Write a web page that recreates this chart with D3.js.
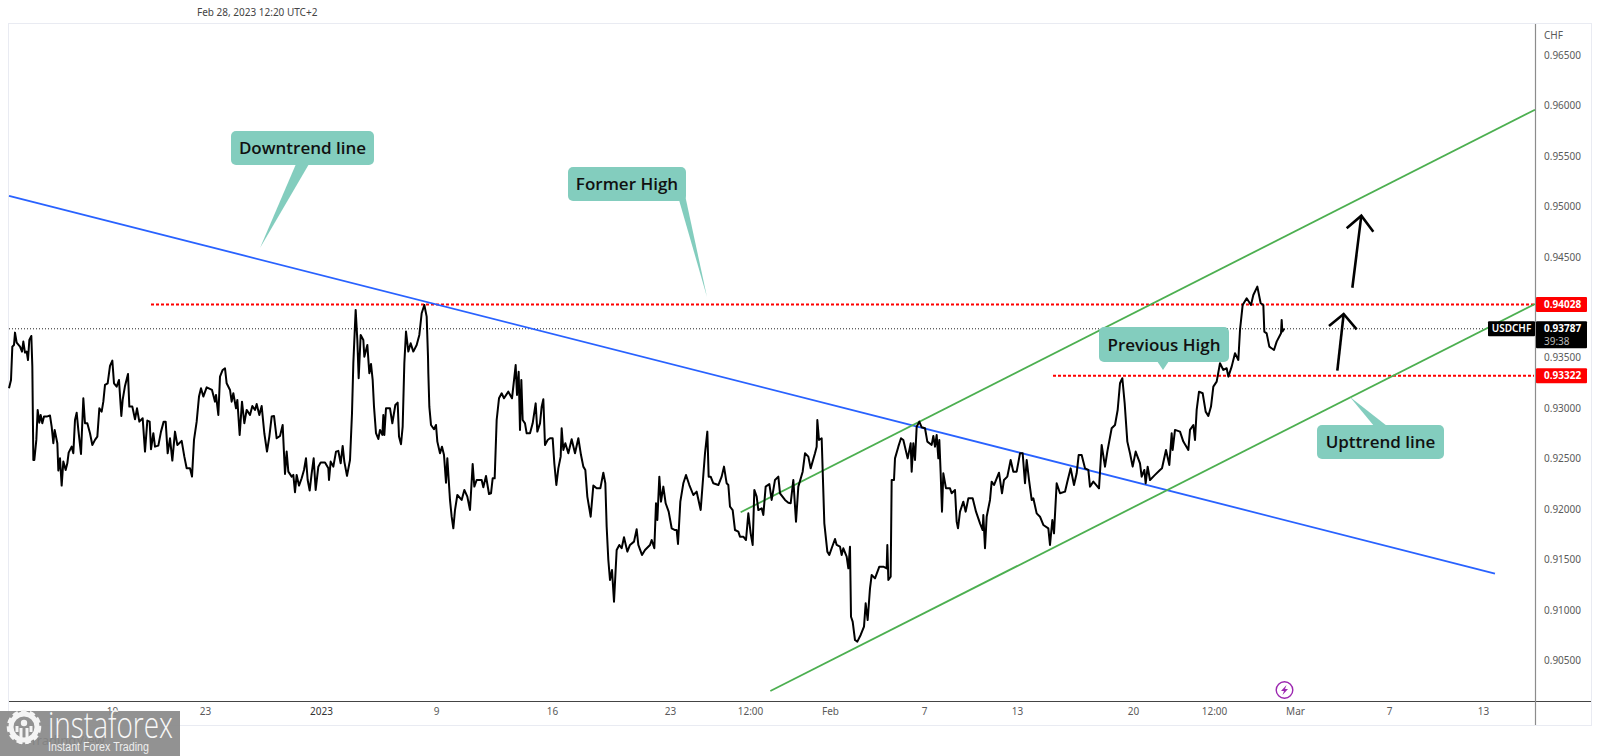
<!DOCTYPE html>
<html>
<head>
<meta charset="utf-8">
<title>USDCHF</title>
<script src="https://cdnjs.cloudflare.com/ajax/libs/d3/7.8.5/d3.min.js"></script>
<style>
  html, body { margin: 0; padding: 0; background: #fff; overflow: hidden; }
  .tick text { font-family: "Noto Sans", sans-serif; font-size: 10px; fill: #5a5a5a; }
</style>
</head>
<body>
<div id="chart"></div>
<script>
// bar position along the chart (bars are evenly spaced, weekends are left out)
var bars = [27,33,37,42,45,50,60,66,70,75,80,84,88,94,97,100,103,109,113,118,122,127,132,140,150,155,160,164,172,175,180,185,190,197,202,206,215,220,225,230,235,243,250,255,262,270,277,285,292,298,305,310,315,323,330,337,342,350,357,364,368,375,384,388,397,405,411,418,428,435,442,449,453,460,465,475,483,491,497,503,510,517,525,532,545,553,560,570,576,582,590,597,603,610,620,636,645,648,655,660,668,675,680,690,695,700,708,712,719,726,733,740,750,757,765,770,778,785,793,801,808,815,822,830,840,848,852,855,860,865,875,880,885,890,897,905,912,918,923,929,935,941,947,955,962,975,985,987,992,1000,1008,1015,1022,1028,1033,1041,1050,1056,1060,1067,1072,1076,1082,1090,1093,1102,1108,1113,1118,1122,1128,1135,1140,1147,1150,1153,1158,1170,1177,1186,1193,1197,1203,1208,1213,1218,1225,1232,1240,1250,1258,1265,1273,1280,1284,
  1285,1288,1293,1302,1308,1312,1320,1326,1332,1338,1342,1350,1355,1360,1365,1372,1385,1393,1402,1410,1418,1423,1430,1445,1450,1458,1467,1473,1478,1484,1490,1497,1505,1512,1525,1536,1541,1547,1551,1556,1560,1564,1568,1575,1580,1590,1598,1607,1612,1620,1625,1630,1635,1643,1650,1658,1663,1669,1675,1682,1685,1690,1696,1705,1715,1725,1735,1743,1750,1756,1762,1772,1780,1790,1801,1810,1816,1820,1825,1830,1836,1842,1850,1858,1865,1872,1882,1890,1902,1910,1915,1926,1935,1950,1955,1963,1968,1972,1978,1983,1990,1997,2006,2015,2025,2030,2034,2041,2050,2058,2068,2080,2090,2102,2110,2115,2122,2126,2132,2140,2155,2165,2172,2180,2185,2190,2198,2205,2215,2220,2230,2238,2245,2252,2258,2263,2270,2275,2285,2290,2297,2308,2315,2325,2335,2340,2355,2365,2372,2380,2388,2395,2408,2415,2425,2432,2445,2450,2452,2457,2465,2473,2482,2488,2495,2505,2510,2520,2525,2530,2540,2545,
  2550,2553,2558,2565,2572,2582,2592,2597,2603,2610,2615,2625,2638,2650,2660,2662,2665,2672,2675,2682,2685,2695,2703,2710,2723,2732,2735,2740,2745,2750,2758,2765,2775,2782,2795,2800,2805,2810,2815,2818,2822,2826,2830,2838,2850,2855,2865,2870,2874,2880,2890,2897,2905,2918,2928,2940,2948,2950,2955,2960,2970,2975,2982,2997,3006,3012,3022,3032,3040,3050,3060,3068,3075,3080,3087,3095,3100,3110,3120,3130,3145,3150,3157,3162,3170,3180,3195,3202,3212,3222,3230,3236,3245,3255,3265,3270,3280,3297,3305,3315,3322,3335,3345,3353,
  3360,3367,3374,3382,3390,3398,3407,3420,3425,3433,3437,3443,3450,3465,3480,3486,3498,3508,3515,3518,3525,3540,3550,3565,3570,3580,3585,3590,3597,3608,3617,3625,3633,3640,3650,3660,3670,3680,3685,3695,3705,3715,3720,3728,3740,3753,3760,3772,3782,3790,3793,3800,3808,3822,3830,3843,3845,3847,3853]

// USDCHF close at each of those bars
var closes = [0.93198,0.93280,0.93610,0.93627,0.93749,0.93650,0.93610,0.93561,0.93660,0.93551,0.93561,0.93478,0.93676,0.93716,0.93412,0.92487,0.92487,0.92686,0.92983,0.92857,0.92933,0.92851,0.92917,0.92917,0.92927,0.92818,0.92653,0.92785,0.92653,0.92382,0.92504,0.92233,0.92471,0.92388,0.92454,0.92560,0.92619,0.92553,0.92884,0.92956,0.92785,0.92547,0.93098,0.92851,0.92851,0.92752,0.92636,0.92686,0.92719,0.92999,0.92966,0.93065,0.93231,0.93247,0.93419,0.93472,0.93247,0.93214,0.93280,0.92923,0.93082,0.93221,0.93340,0.93016,0.93016,0.92890,0.92999,0.92867,0.92900,0.92570,0.92877,0.92867,0.92593,0.92752,0.92619,0.92629,0.92768,0.92867,0.92867,0.92553,0.92702,0.92481,0.92768,0.92636,0.92676,0.92520,0.92405,0.92405,0.92322,0.92686,0.92867,0.93115,0.93198,0.93115,0.93207,0.93181,0.93065,0.93131,0.92933,0.93313,0.93379,0.93396,0.93247,0.93181,0.93065,0.93148,0.92999,0.93082,0.92735,0.93065,0.92851,0.92983,0.92933,0.93022,0.92983,0.93042,0.92933,0.93022,0.92752,0.92570,0.92719,0.92917,0.92923,0.92702,0.92725,0.92834,0.92553,0.92349,0.92570,0.92372,0.92322,0.92339,0.92167,0.92339,0.92233,0.92306,0.92388,0.92504,0.92289,0.92184,0.92355,0.92504,0.92190,0.92421,0.92461,0.92461,0.92405,0.92289,0.92471,0.92421,0.92570,0.92577,0.92454,0.92626,0.92471,0.92329,0.92487,0.92950,0.93445,0.93974,0.93676,0.93297,0.93726,0.93676,0.93511,0.93627,0.93346,0.93439,0.93280,0.93016,0.92752,0.92695,0.92785,0.92735,0.92933,0.92735,0.92999,0.92999,0.92851,0.93032,0.93055,0.92719,0.92643,0.92818,0.93445,0.93759,0.93561,0.93643,0.93561,0.93627,0.93726,0.93941,0.94023,0.93908,0.93511,
  0.93346,0.93015,0.92834,0.92791,0.92834,0.92669,0.92553,0.92619,0.92536,0.92262,0.92503,0.92091,0.91925,0.91810,0.91991,0.92140,0.92091,0.92190,0.92124,0.91991,0.92447,0.92223,0.92289,0.92289,0.92216,0.92328,0.92150,0.92157,0.92305,0.92305,0.92883,0.93098,0.93148,0.93098,0.93164,0.93098,0.93247,0.93428,0.93131,0.93362,0.92784,0.93280,0.92883,0.92850,0.92751,0.92751,0.92850,0.93048,0.92768,0.92850,0.93015,0.93088,0.92636,0.92685,0.92702,0.92702,0.92454,0.92239,0.92404,0.92520,0.92801,0.92586,0.92652,0.92553,0.92692,0.92553,0.92702,0.92536,0.92421,0.92388,0.92124,0.91925,0.92233,0.92206,0.92206,0.92361,0.92256,0.91826,0.91496,0.91298,0.91397,0.91083,0.91595,0.91645,0.91612,0.91721,0.91579,0.91645,0.91678,0.91800,0.91645,0.91546,0.91595,0.91645,0.91694,0.91612,0.92058,0.91892,0.92322,0.92074,0.92223,0.92058,0.91975,0.91810,0.91793,0.91793,0.91655,0.92074,0.92256,0.92338,0.92239,0.92140,0.92173,0.91991,0.92338,0.92553,0.92768,0.92322,0.92322,0.92256,0.92239,0.92322,0.92421,0.92256,0.92239,0.92024,0.91991,0.91793,0.91777,0.91727,0.91727,0.91694,0.91958,0.91760,0.91645,0.92190,0.92124,0.91991,0.92008,0.91942,0.92223,0.92249,0.92091,0.92289,0.92322,0.92157,0.92091,0.92064,0.92058,0.92289,0.91876,0.92223,0.92371,0.92553,0.92520,0.92404,0.92553,0.92619,0.92883,0.92685,0.92702,0.91859,0.91579,0.91546,0.91612,0.91704,0.91645,0.91628,0.91546,0.91612,0.91529,0.91413,
  0.91628,0.90934,0.90885,0.90703,0.90687,0.90753,0.90835,0.91067,0.90901,0.91215,0.91347,0.91314,0.91430,0.91430,0.91413,0.91645,0.91298,0.91331,0.92289,0.92289,0.92503,0.92619,0.92702,0.92685,0.92503,0.92652,0.92371,0.92652,0.92487,0.92817,0.92867,0.92811,0.92801,0.92669,0.92636,0.92725,0.92619,0.92735,0.92503,0.92685,0.92355,0.91975,0.92355,0.92206,0.92206,0.92157,0.92190,0.91876,0.91810,0.91975,0.92074,0.91975,0.92107,0.92107,0.91975,0.91859,0.91793,0.91942,0.91612,0.91925,0.92091,0.92272,0.92239,0.92361,0.92157,0.92289,0.92322,0.92487,0.92371,0.92371,0.92553,0.92553,0.92256,0.92487,0.92289,0.92091,0.92107,0.91958,0.91925,0.91843,0.91810,0.91645,0.91892,0.91760,0.92256,0.92157,0.92173,0.92272,0.92404,0.92239,0.92355,0.92536,0.92536,0.92404,0.92388,0.92223,0.92272,0.92206,0.92636,0.92421,0.92570,0.92801,0.92834,0.92982,
  0.93247,0.93297,0.93049,0.92669,0.92553,0.92421,0.92570,0.92454,0.92322,0.92388,0.92256,0.92421,0.92289,0.92339,0.92388,0.92405,0.92586,0.92438,0.92752,0.92586,0.92785,0.92768,0.92669,0.92586,0.92785,0.92834,0.92685,0.92983,0.93164,0.93148,0.92966,0.92923,0.93016,0.93214,0.93263,0.93445,0.93379,0.93396,0.93313,0.93412,0.93544,0.93478,0.93775,0.94023,0.94089,0.94023,0.94122,0.94205,0.94040,0.94023,0.93759,0.93742,0.93610,0.93577,0.93660,0.93742,0.93875,0.93759,0.93787]

// axis labels
var priceTicks = [0.905,0.91,0.915,0.92,0.925,0.93,0.935,0.945,0.95,0.955,0.96,0.965]
var dateBars = [336,615,963,1308,1656,2010,2250,2490,2772,3051,3399,3642,3885,4167,4449]
var dateLabels = ["19","23","2023","9","16","23","12:00","Feb","7","13","20","12:00","Mar","7","13"]

// drawn trend lines and levels, [bar, price]
var downtrend = [[27,0.95105],[4485,0.91362]]
var upperChannel = [[2222,0.91969],[4605,0.95958]]
var lowerChannel = [[2311,0.90198],[4605,0.94033]]
var formerHigh = 0.94028
var previousHigh = 0.93322
var lastPrice = 0.93787
var arrowOne = [[3987,0.93815],[4031,0.93934],[4070,0.93782]]
var arrowOneTail = [[4012,0.93372],[4031,0.93934]]
var arrowTwo = [[4040,0.94783],[4084,0.94908],[4120,0.94749]]
var arrowTwoTail = [[4057,0.94194],[4084,0.94908]]

var width = 1600, height = 756

var svg = d3.select("#chart").append("svg")
  .attr("width", width)
  .attr("height", height)
  .style("display", "block")

var xScale = d3.scaleLinear()
  .domain([27, 4605]) // bars
  .range([9, 1535]) // in browser pixels

var yScale = d3.scaleLinear()
  .domain([0.905, 0.965])
  .range([660.5, 55])

var line = d3.line()
  .x(function(d) { return xScale(d[0]) })
  .y(function(d) { return yScale(d[1]) })

// Chart frame
svg.append("rect")
  .attr("x", 8.5)
  .attr("y", 23.5)
  .attr("width", 1583)
  .attr("height", 702)
  .style("fill", "none")
  .style("stroke", "#e9ebf2")

// Axes
var yAxis = d3.axisRight(yScale)
  .tickValues(priceTicks)
  .tickSize(0)
  .tickPadding(9)
  .tickFormat(d3.format(".5f"))

svg.append("g")
  .attr("transform", "translate(1535, 0)")
  .call(yAxis)
  .call(function(g) { g.select(".domain").remove() })

var xAxis = d3.axisBottom(xScale)
  .tickValues(dateBars)
  .tickSize(0)
  .tickPadding(7)
  .tickFormat(function(d, i) { return dateLabels[i] })

svg.append("g")
  .attr("transform", "translate(0, 701)")
  .call(xAxis)
  .call(function(g) { g.select(".domain").remove() })
  .selectAll("text")
  .style("fill", function(d, i) {
    return dateLabels[i] == "2023" ? "#333" : "#5a5a5a"
  })

svg.append("line")
  .attr("x1", 9).attr("x2", 1591)
  .attr("y1", 701.5).attr("y2", 701.5)
  .style("stroke", "#444")

svg.append("line")
  .attr("x1", 1535.5).attr("x2", 1535.5)
  .attr("y1", 24).attr("y2", 725)
  .style("stroke", "#8c8c8c")
  .style("stroke-width", 1.2)

svg.append("text")
  .attr("x", 1544)
  .attr("y", 39)
  .text("CHF")
  .style("font-family", "Noto Sans, sans-serif")
  .style("font-size", "10px")
  .style("fill", "#5a5a5a")

svg.append("text")
  .attr("x", 197)
  .attr("y", 16)
  .text("Feb 28, 2023 12:20 UTC+2")
  .style("font-family", "Noto Sans, sans-serif")
  .style("font-size", "10px")
  .style("fill", "#444")

// Last price dotted line
svg.append("line")
  .attr("x1", 9).attr("x2", 1488)
  .attr("y1", yScale(lastPrice)).attr("y2", yScale(lastPrice))
  .style("stroke", "#222")
  .style("stroke-dasharray", "1,2")

// Horizontal levels
function level(value, fromBar) {
  svg.append("line")
    .attr("x1", xScale(fromBar)).attr("x2", 1534)
    .attr("y1", yScale(value)).attr("y2", yScale(value))
    .style("stroke", "#f00")
    .style("stroke-width", 2)
    .style("stroke-dasharray", "3,2")
}
level(formerHigh, 453)
level(previousHigh, 3159)

// Trend lines
function trend(points, color) {
  svg.append("path")
    .attr("d", line(points))
    .style("fill", "none")
    .style("stroke", color)
    .style("stroke-width", 1.8)
}
trend(downtrend, "#2962ff")
trend(upperChannel, "#4caf50")
trend(lowerChannel, "#4caf50")

// Price line
svg.append("path")
  .datum(d3.zip(bars, closes))
  .attr("d", line)
  .style("fill", "none")
  .style("stroke", "#000")
  .style("stroke-width", 2)
  .style("stroke-linejoin", "round")

// Arrows
;[arrowOne, arrowOneTail, arrowTwo, arrowTwoTail].forEach(function(points) {
  svg.append("path")
    .attr("d", line(points))
    .style("fill", "none")
    .style("stroke", "#000")
    .style("stroke-width", 2.6)
})

// Speech bubbles, the tail is given as three points
function bubble(label, x1, y1, x2, y2, tail) {
  svg.append("path")
    .attr("d", "M" + tail.join("L") + "Z")
    .style("fill", "#83cdbe")
  svg.append("rect")
    .attr("x", x1).attr("y", y1)
    .attr("width", x2 - x1).attr("height", y2 - y1)
    .attr("rx", 5)
    .style("fill", "#83cdbe")
  svg.append("text")
    .attr("x", (x1 + x2) / 2)
    .attr("y", (y1 + y2) / 2 + 6)
    .attr("text-anchor", "middle")
    .text(label)
    .style("font-family", "Open Sans, sans-serif")
    .style("font-weight", 600)
    .style("font-size", "17px")
    .style("fill", "#111")
}
bubble("Downtrend line", 231, 131, 374, 165, [[296, 164], [309, 164], [260, 248]])
bubble("Former High", 568, 167, 686, 201, [[679, 200], [685, 195], [707, 297]])
bubble("Previous High", 1099, 327, 1229, 362, [[1157, 361], [1169, 361], [1163, 370]])
bubble("Upttrend line", 1317, 425, 1444, 459, [[1374, 426], [1387, 426], [1350, 397]])

// Price labels on the axis
function priceTag(value, fill) {
  svg.append("rect")
    .attr("x", 1536).attr("y", yScale(value) - 7.5)
    .attr("width", 51).attr("height", 15)
    .attr("rx", 1)
    .style("fill", fill)
  svg.append("text")
    .attr("x", 1544).attr("y", yScale(value) + 3.5)
    .text(d3.format(".5f")(value))
    .style("font-family", "Noto Sans, sans-serif")
    .style("font-weight", 700)
    .style("font-size", "10px")
    .style("fill", "#fff")
}
priceTag(formerHigh, "#f00")
priceTag(previousHigh, "#f00")

svg.append("rect")
  .attr("x", 1536).attr("y", yScale(lastPrice) - 7.5)
  .attr("width", 51).attr("height", 27)
  .attr("rx", 1)
  .style("fill", "#000")
svg.append("text")
  .attr("x", 1544).attr("y", yScale(lastPrice) + 3.5)
  .text(d3.format(".5f")(lastPrice))
  .style("font-family", "Noto Sans, sans-serif")
  .style("font-weight", 700)
  .style("font-size", "10px")
  .style("fill", "#fff")
svg.append("text")
  .attr("x", 1544).attr("y", yScale(lastPrice) + 16)
  .text("39:38")
  .style("font-family", "Noto Sans, sans-serif")
  .style("font-size", "10px")
  .style("fill", "#bbb")

svg.append("rect")
  .attr("x", 1488).attr("y", yScale(lastPrice) - 7.5)
  .attr("width", 47).attr("height", 15)
  .attr("rx", 1)
  .style("fill", "#000")
svg.append("text")
  .attr("x", 1511.5).attr("y", yScale(lastPrice) + 3.5)
  .attr("text-anchor", "middle")
  .text("USDCHF")
  .style("font-family", "Noto Sans, sans-serif")
  .style("font-weight", 600)
  .style("font-size", "10px")
  .style("fill", "#fff")

// Lightning mark
var bolt = svg.append("g").attr("transform", "translate(1284.5, 690)")
bolt.append("circle")
  .attr("r", 8.3)
  .style("fill", "#fff")
  .style("stroke", "#9c27b0")
  .style("stroke-width", 1.4)
bolt.append("path")
  .attr("d", "M2,-5L-3.5,1L-0.5,1L-2,5L3.5,-1L0.5,-1Z")
  .style("fill", "#9c27b0")

// TradingView text under the watermark
svg.append("text")
  .attr("x", 30)
  .attr("y", 745)
  .text("TradingView")
  .style("font-family", "Noto Sans, sans-serif")
  .style("font-size", "13px")
  .style("fill", "#333")

// Watermark
svg.append("rect")
  .attr("x", 0).attr("y", 711)
  .attr("width", 180).attr("height", 45)
  .style("fill", "#8a8a8a")
  .style("fill-opacity", 0.93)

var gear = svg.append("g").attr("transform", "translate(24, 727)")
gear.append("circle")
  .attr("r", 13)
  .style("fill", "none")
  .style("stroke", "#f4f4f4")
  .style("stroke-width", 5)
gear.append("circle")
  .attr("r", 15.5)
  .style("fill", "none")
  .style("stroke", "#f4f4f4")
  .style("stroke-width", 3.5)
  .style("stroke-dasharray", "5.5,3.2")
gear.append("circle")
  .attr("cy", -4)
  .attr("r", 3.2)
  .style("fill", "#f4f4f4")
gear.append("path")
  .attr("d", "M-7,-1L-7,5M7,-1L7,5M-3,1L-3,17M3,1L3,17")
  .style("fill", "none")
  .style("stroke", "#f4f4f4")
  .style("stroke-width", 3)

svg.append("text")
  .attr("x", 48)
  .attr("y", 738)
  .attr("textLength", 125)
  .attr("lengthAdjust", "spacingAndGlyphs")
  .text("instaforex")
  .style("font-family", "Open Sans, sans-serif")
  .style("font-weight", 300)
  .style("font-size", "36px")
  .style("fill", "#f8f8f8")

svg.append("text")
  .attr("x", 48)
  .attr("y", 751)
  .attr("textLength", 101)
  .attr("lengthAdjust", "spacingAndGlyphs")
  .text("Instant Forex Trading")
  .style("font-family", "Liberation Sans, sans-serif")
  .style("font-size", "12px")
  .style("fill", "#eee")
</script>
</body>
</html>
